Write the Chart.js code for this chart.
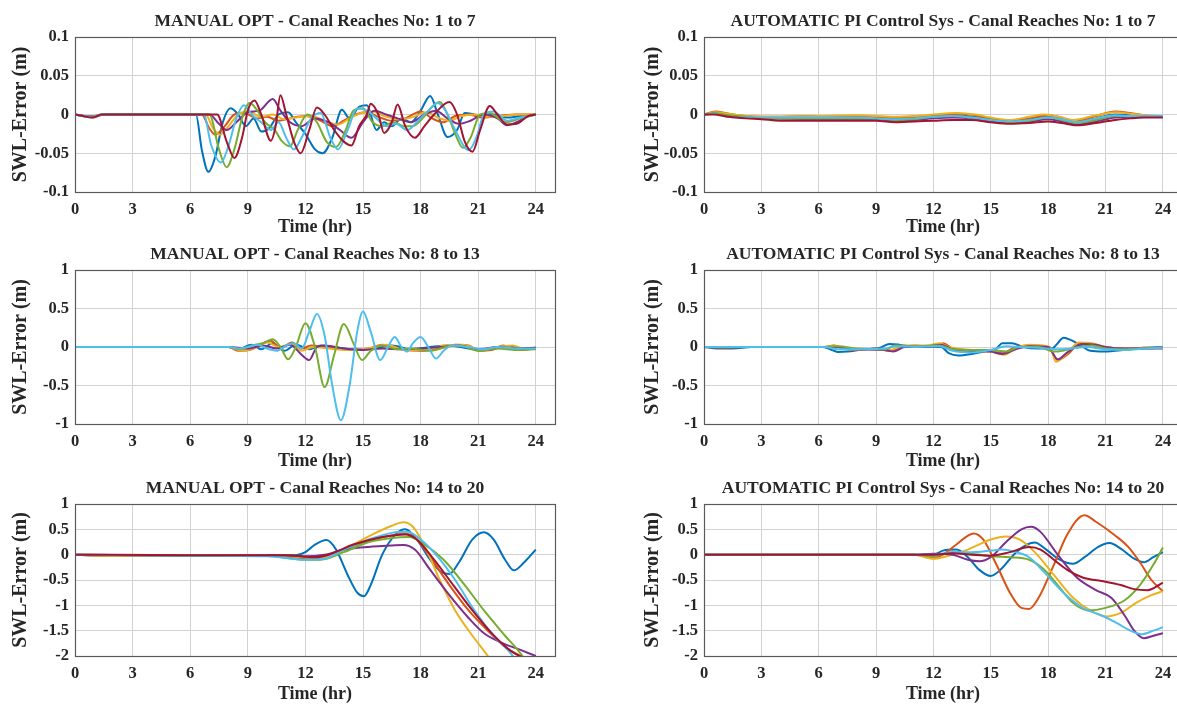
<!DOCTYPE html>
<html>
<head>
<meta charset="utf-8">
<script src="https://cdn.jsdelivr.net/npm/chart.js@4.4.1/dist/chart.umd.min.js"></script>
<style>
  html, body { margin: 0; padding: 0; background: #fff; overflow: hidden; width: 1177px; height: 704px; }
  canvas { position: absolute; }
</style>
</head>
<body>
<canvas id="p1" width="590" height="236" style="left:0;top:0"></canvas>
<canvas id="p2" width="600" height="236" style="left:590px;top:0"></canvas>
<canvas id="p3" width="590" height="234" style="left:0;top:236px"></canvas>
<canvas id="p4" width="600" height="234" style="left:590px;top:236px"></canvas>
<canvas id="p5" width="590" height="234" style="left:0;top:470px"></canvas>
<canvas id="p6" width="600" height="234" style="left:590px;top:470px"></canvas>
<script>
// MATLAB default line colours, reach order within each panel
const colors = ['#0072BD', '#D95319', '#EDB120', '#7E2F8E', '#77AC30', '#4DBEEE', '#A2142F'];

const xTicks = [0, 3, 6, 9, 12, 15, 18, 21, 24];
const yTicksSmall = [-0.1, -0.05, 0, 0.05, 0.1];
const yLabelsSmall = ['-0.1', '-0.05', '0', '0.05', '0.1'];
const yTicksMid = [-1, -0.5, 0, 0.5, 1];
const yLabelsMid = ['-1', '-0.5', '0', '0.5', '1'];
const yTicksBig = [-2, -1.5, -1, -0.5, 0, 0.5, 1];
const yLabelsBig = ['-2', '-1.5', '-1', '-0.5', '0', '0.5', '1'];

const titles = [
  'MANUAL OPT - Canal Reaches No: 1 to 7',
  'AUTOMATIC PI Control Sys - Canal Reaches No: 1 to 7',
  'MANUAL OPT - Canal Reaches No: 8 to 13',
  'AUTOMATIC PI Control Sys - Canal Reaches No: 8 to 13',
  'MANUAL OPT - Canal Reaches No: 14 to 20',
  'AUTOMATIC PI Control Sys - Canal Reaches No: 14 to 20'
];

// each series: [time (hr), SWL error (m)]
const manual1to7 = [
  [[0,0],[0.4,-0.002],[0.9,-0.003],[1.4,0],[6.3,0],[6.6,-0.045],[6.95,-0.074],[7.3,-0.055],[7.7,-0.01],[8.1,0.008],[8.5,0],[8.9,-0.015],[9.3,-0.005],[9.7,-0.022],[10.1,-0.018],[10.6,0],[11.1,0.003],[11.5,-0.01],[12,-0.025],[12.5,-0.045],[12.9,-0.05],[13.4,-0.03],[13.9,0.006],[14.3,-0.005],[14.8,0.01],[15.2,0.012],[15.7,-0.02],[16.1,-0.01],[16.5,-0.015],[17,-0.005],[17.5,-0.01],[18,0.005],[18.5,0.024],[18.9,0],[19.4,-0.029],[19.9,-0.02],[20.3,0.002],[20.8,0],[21.3,-0.003],[21.8,0],[22.5,-0.004],[23.2,-0.002],[24,0]],
  [[0,0],[0.5,-0.002],[1,-0.002],[1.5,0],[6.6,0],[7,-0.018],[7.3,-0.026],[7.8,-0.015],[8.3,0],[8.8,0.002],[9.5,-0.005],[10,-0.003],[10.6,-0.008],[11.2,-0.005],[12,-0.002],[12.8,-0.008],[13.4,-0.015],[14,-0.008],[14.6,0],[15.2,0.003],[15.8,-0.003],[16.5,-0.008],[17.2,-0.005],[18,0.004],[18.6,-0.005],[19.2,-0.01],[19.8,-0.002],[20.5,0],[21.2,-0.004],[22,-0.002],[23,0],[24,0]],
  [[0,0],[0.5,-0.002],[1,-0.003],[1.5,0],[6.8,0],[7.2,-0.018],[7.55,-0.026],[8,-0.015],[8.5,0],[9,0.004],[9.7,-0.003],[10.3,0],[10.9,-0.006],[11.5,-0.004],[12.3,-0.002],[13,-0.008],[13.7,-0.013],[14.3,-0.005],[14.9,0.002],[15.5,0.004],[16.1,-0.002],[16.8,-0.006],[17.5,-0.004],[18.3,0.003],[18.9,-0.004],[19.5,-0.008],[20.1,-0.002],[20.8,0],[21.5,-0.003],[22.3,-0.002],[23,0],[24,0]],
  [[0,0],[0.5,-0.002],[1,-0.003],[1.5,0],[7,0],[7.5,-0.012],[7.9,-0.02],[8.4,-0.01],[9,0.003],[9.6,0.005],[10.3,0.02],[10.7,0.005],[11.2,-0.01],[11.8,-0.015],[12.5,-0.005],[13.2,-0.01],[13.8,-0.02],[14.4,-0.03],[15,-0.01],[15.6,0.005],[16.2,0],[16.8,-0.005],[17.5,-0.01],[18.2,0],[18.8,0.005],[19.4,-0.005],[20,-0.012],[20.6,-0.008],[21.3,0],[22,-0.005],[22.5,-0.014],[23,-0.01],[23.6,-0.002],[24,0]],
  [[0,0],[0.4,-0.002],[0.9,-0.004],[1.4,0],[7,0],[7.5,-0.045],[7.9,-0.068],[8.3,-0.045],[8.7,-0.005],[9.1,0.015],[9.5,0.005],[9.9,-0.01],[10.4,-0.02],[10.8,-0.035],[11.2,-0.041],[11.6,-0.02],[12.1,0],[12.6,-0.01],[13.1,-0.035],[13.6,-0.042],[14.1,-0.02],[14.5,0.005],[15,0.008],[15.5,-0.01],[16,-0.015],[16.6,-0.01],[17.1,-0.015],[17.6,-0.015],[18.1,-0.005],[18.6,0.01],[19,0.016],[19.4,0],[19.8,-0.025],[20.2,-0.043],[20.6,-0.03],[21.1,0],[21.6,0.002],[22.4,-0.01],[23.2,-0.005],[24,0]],
  [[0,0],[0.4,-0.002],[0.9,-0.003],[1.4,0],[6.7,0],[7.1,-0.04],[7.6,-0.062],[8,-0.04],[8.4,-0.005],[8.8,0.012],[9.2,0],[9.7,-0.01],[10.2,-0.02],[10.6,-0.01],[11,-0.03],[11.4,-0.045],[11.8,-0.03],[12.3,-0.005],[12.8,0.002],[13.3,-0.03],[13.7,-0.045],[14.2,-0.02],[14.7,0.008],[15.2,0.005],[15.7,-0.005],[16.2,-0.015],[16.7,-0.012],[17.3,-0.02],[17.8,-0.01],[18.4,0.005],[18.9,0.015],[19.3,0.005],[19.8,-0.02],[20.5,-0.046],[20.9,-0.03],[21.3,0],[21.8,0.004],[22.5,-0.008],[23.2,-0.004],[24,0]],
  [[0,0],[0.4,-0.002],[0.9,-0.004],[1.4,0],[7.4,0],[7.9,-0.035],[8.3,-0.056],[8.7,-0.03],[9,0.005],[9.35,0.018],[9.7,0],[10.2,-0.034],[10.45,-0.015],[10.7,0.025],[11,0],[11.4,-0.035],[11.75,-0.05],[12.2,-0.02],[12.6,0.009],[13,0],[13.5,-0.02],[14,-0.035],[14.4,-0.04],[14.8,-0.015],[15.2,0],[15.4,0.014],[15.8,0],[16.1,-0.024],[16.5,-0.01],[16.8,0.013],[17.2,-0.015],[17.7,-0.03],[18.2,-0.015],[18.7,0],[19.5,0.016],[19.9,0],[20.3,-0.035],[20.7,-0.048],[21.1,-0.02],[21.6,0.011],[22,0],[22.5,-0.013],[23,-0.012],[23.6,-0.002],[24,0]]
];

const auto1to7 = [
  [[0,0],[0.5,0.002],[1.2,-0.001],[2,-0.003],[3,-0.004],[6,-0.004],[8,-0.003],[9,-0.004],[10,-0.006],[11,-0.004],[12,-0.002],[13,-0.001],[14,-0.003],[15,-0.006],[16,-0.009],[17,-0.006],[18,-0.003],[18.7,-0.006],[19.5,-0.01],[20.5,-0.005],[21.5,0],[22.3,-0.001],[23,-0.002],[24,-0.002]],
  [[0,0],[0.6,0.004],[1.3,0.001],[2.2,-0.002],[3,-0.003],[6,-0.002],[8,-0.002],[9,-0.003],[10,-0.004],[11,-0.003],[12,-0.001],[13.3,0.001],[14.2,-0.001],[15,-0.005],[16,-0.009],[17,-0.005],[18,-0.001],[18.7,-0.004],[19.4,-0.009],[20.5,-0.002],[21.5,0.004],[22.3,0.002],[23,-0.001],[24,-0.002]],
  [[0,0],[0.6,0.003],[1.3,0.001],[2.2,-0.002],[3,-0.003],[6,-0.002],[8,-0.001],[9,-0.002],[10,-0.003],[11,-0.002],[12,0],[13.2,0.002],[14.2,0],[15,-0.004],[16,-0.007],[17,-0.003],[17.8,0],[18.6,-0.003],[19.3,-0.007],[20.5,-0.001],[21.5,0.003],[22.3,0.001],[23,-0.001],[24,-0.002]],
  [[0,0],[0.5,0.001],[1.3,-0.002],[2.2,-0.004],[3,-0.005],[6,-0.006],[8,-0.006],[9,-0.006],[10,-0.008],[11,-0.007],[12,-0.005],[13,-0.004],[14,-0.005],[15,-0.008],[16,-0.011],[17,-0.009],[18,-0.006],[18.7,-0.009],[19.5,-0.013],[20.5,-0.009],[21.5,-0.004],[22.3,-0.003],[23,-0.003],[24,-0.003]],
  [[0,0],[0.5,0.002],[1.3,-0.001],[2.2,-0.003],[3,-0.005],[6,-0.005],[8,-0.005],[9,-0.005],[10,-0.007],[11,-0.006],[12,-0.003],[13,-0.002],[14,-0.004],[15,-0.007],[16,-0.01],[17,-0.008],[18,-0.004],[18.7,-0.007],[19.5,-0.011],[20.5,-0.007],[21.5,-0.002],[22.3,-0.002],[23,-0.002],[24,-0.003]],
  [[0,0],[0.5,0.001],[1.2,-0.003],[2,-0.004],[3,-0.004],[6,-0.004],[8,-0.004],[9,-0.005],[10,-0.006],[11,-0.005],[12,-0.003],[13,-0.002],[14,-0.004],[15,-0.007],[16,-0.009],[17,-0.007],[18,-0.004],[18.7,-0.006],[19.5,-0.01],[20.5,-0.005],[21.5,-0.001],[22.3,-0.002],[23,-0.002],[24,-0.002]],
  [[0,0],[0.5,0],[1.3,-0.003],[2.2,-0.005],[3,-0.006],[4,-0.008],[6,-0.008],[8,-0.008],[9,-0.008],[10,-0.01],[11,-0.009],[12,-0.008],[13,-0.007],[14,-0.007],[15,-0.01],[16,-0.012],[17,-0.011],[18,-0.009],[18.7,-0.011],[19.5,-0.014],[20.5,-0.011],[21.5,-0.007],[22.3,-0.005],[23,-0.004],[24,-0.004]]
];

const manual8to13 = [
  [[0,0],[8,0],[8.5,-0.03],[9.2,0.03],[9.7,-0.03],[10.3,0.05],[10.9,-0.05],[11.5,0.03],[12.2,-0.03],[12.8,0.02],[13.5,0],[14.5,-0.03],[15.5,-0.02],[16.5,0.02],[17.5,-0.03],[18.5,0],[19.5,0.02],[20.5,-0.02],[21.5,-0.04],[22.5,0.01],[23.5,-0.02],[24,-0.01]],
  [[0,0],[8,0],[8.5,-0.05],[9.2,-0.03],[9.8,0.05],[10.2,0.08],[10.7,-0.02],[11.3,0.06],[11.8,-0.02],[12.3,0.02],[13,0],[14,-0.03],[15,-0.04],[16,0.03],[17,-0.03],[18,-0.05],[19,-0.02],[19.8,0.03],[20.5,0.02],[21,-0.05],[21.7,-0.04],[22.3,0.02],[23,-0.04],[24,-0.02]],
  [[0,0],[8,0],[8.7,-0.05],[9.3,-0.02],[10,0.06],[10.6,0],[11.3,0.04],[11.8,-0.05],[12.4,0],[13.2,-0.02],[14.2,-0.04],[15.2,-0.02],[16.2,0.03],[17.2,-0.04],[18.2,-0.04],[19.2,0.02],[20.2,0.03],[21.2,-0.04],[22,0],[22.8,0.02],[23.5,-0.03],[24,-0.02]],
  [[0,0],[8,0],[9,-0.02],[9.8,0.02],[10.5,-0.02],[11.2,0.03],[11.8,-0.1],[12.2,-0.17],[12.6,0],[13,0.02],[14,-0.02],[15,-0.04],[16,-0.02],[17,-0.03],[18,-0.02],[19,0],[20,0.02],[21,-0.03],[22,0],[23,-0.02],[24,-0.01]],
  [[0,0],[8,0],[8.6,-0.03],[9.2,0.02],[9.8,0.05],[10.3,0.1],[10.7,0],[11.1,-0.16],[11.5,0],[12,0.31],[12.5,0],[13,-0.52],[13.5,-0.1],[14,0.3],[14.5,0.05],[14.95,-0.17],[15.4,-0.05],[16,0.02],[16.8,-0.03],[17.5,-0.02],[18.5,-0.05],[19.3,0],[20,0.02],[21,-0.05],[22,-0.02],[23,-0.04],[24,-0.03]],
  [[0,0],[8,0],[8.5,-0.02],[9,0],[9.5,0.03],[10,-0.02],[10.5,-0.05],[11,0.02],[11.4,0.05],[11.8,-0.02],[12.2,0.2],[12.6,0.43],[13,0.15],[13.4,-0.5],[13.85,-0.95],[14.3,-0.5],[14.7,0.2],[15,0.46],[15.4,0.2],[15.9,-0.17],[16.3,0],[16.65,0.13],[17,0],[17.3,-0.06],[17.6,0.05],[18,0.13],[18.4,0],[18.8,-0.15],[19.2,-0.05],[19.6,0.02],[20.5,0],[21.2,-0.03],[22,0],[23,-0.02],[24,-0.02]]
];

const auto8to13 = [
  [[0,0],[0.7,-0.02],[1.5,-0.02],[2.5,0],[6.2,0],[6.6,-0.03],[7,-0.065],[7.5,-0.06],[8.3,-0.03],[9.2,-0.01],[9.7,0.04],[10.2,0.03],[11,0],[12.4,0],[12.8,-0.08],[13.3,-0.11],[14,-0.09],[14.8,-0.05],[15.3,-0.02],[15.6,0.05],[16.1,0.05],[16.7,0],[17.5,-0.02],[18.2,-0.02],[18.5,0.05],[18.8,0.12],[19.2,0.09],[19.7,0.02],[20.2,-0.05],[20.9,-0.06],[21.5,-0.05],[22.2,-0.03],[23,-0.01],[24,0]],
  [[0,0],[1,-0.01],[2,0],[6.3,0],[6.8,0.02],[7.3,-0.02],[8,-0.04],[9,-0.02],[9.7,-0.05],[10.3,0],[11,0.02],[12.2,0.01],[12.5,0.05],[13,-0.02],[14,-0.05],[15,-0.06],[15.6,-0.08],[16.3,0],[17,0.02],[18,0],[18.5,-0.17],[19,-0.1],[19.7,0.05],[20.3,0.04],[21,0],[22,-0.02],[23,-0.01],[24,-0.01]],
  [[0,0],[6.3,0],[6.8,0.02],[7.5,-0.03],[8.5,-0.03],[9.7,-0.04],[10.5,0.02],[11.5,0.01],[12.3,0.05],[12.8,0],[14,-0.04],[15,-0.06],[15.7,-0.1],[16.3,-0.02],[17,0.03],[18.1,0],[18.4,-0.19],[19,-0.08],[19.6,0.06],[20.3,0.05],[21,0],[22,-0.02],[23,-0.02],[24,-0.01]],
  [[0,0],[6.3,0],[7,0],[8,-0.03],[9.5,-0.04],[9.9,-0.06],[10.5,0],[11.5,0],[12.4,0.03],[13,-0.03],[14,-0.05],[15,-0.06],[15.6,-0.09],[16.3,-0.03],[17,0.01],[18,0],[18.5,-0.16],[19,-0.07],[19.8,0.04],[20.5,0.03],[21,0],[22,-0.02],[23,-0.02],[24,-0.02]],
  [[0,0],[6.3,0],[7,0.01],[8,-0.02],[9.5,-0.03],[10,0.02],[11,0.01],[12.3,0.02],[13,-0.03],[14,-0.04],[15,-0.04],[15.8,-0.06],[16.5,0],[17.5,0],[18.3,-0.06],[18.9,-0.04],[19.6,0],[20.3,0.02],[21,-0.02],[22,-0.03],[23,-0.02],[24,-0.01]],
  [[0,0],[6.3,0],[7,-0.03],[8,-0.03],[9.5,-0.02],[10,0.01],[11,0],[12.3,0.01],[13,-0.05],[14,-0.07],[15,-0.04],[15.8,0.01],[16.5,0],[17.5,-0.01],[18.5,-0.03],[19.2,-0.02],[20,0],[21,-0.03],[22,-0.04],[23,-0.02],[24,-0.01]]
];

const manual14to20 = [
  [[0,0],[1,-0.02],[3,-0.02],[6,-0.02],[9,-0.02],[11.5,-0.01],[12,0.05],[12.5,0.2],[13.1,0.29],[13.6,0.1],[14.2,-0.4],[14.7,-0.75],[15.05,-0.82],[15.4,-0.6],[16,0],[16.7,0.4],[17.2,0.5],[17.8,0.3],[18.5,-0.1],[19.1,-0.35],[19.5,-0.38],[20,-0.15],[20.7,0.3],[21.3,0.44],[21.8,0.3],[22.4,-0.1],[22.85,-0.31],[23.4,-0.15],[24,0.1]],
  [[0,0],[6,-0.02],[10,-0.02],[12,-0.07],[13,-0.05],[14,0.1],[15.5,0.3],[16.5,0.38],[17.2,0.42],[17.8,0.3],[18.5,-0.05],[19.5,-0.6],[20.5,-1.1],[21.5,-1.5],[22.5,-1.85],[23.2,-2],[23.5,-2.1]],
  [[0,0],[1,-0.02],[6,-0.02],[10,-0.02],[12,-0.05],[12.8,-0.06],[13.5,0],[14.5,0.2],[15.5,0.4],[16.5,0.57],[17.1,0.64],[17.6,0.55],[18.3,0.1],[19,-0.5],[19.8,-1.1],[20.7,-1.6],[21.5,-2],[22,-2.3]],
  [[0,0],[6,-0.02],[10.8,-0.01],[12,-0.03],[13,0],[14,0.1],[15.5,0.16],[16.5,0.18],[17.1,0.19],[17.7,0.1],[18.5,-0.3],[19.5,-0.8],[20.5,-1.25],[21.3,-1.55],[22.3,-1.75],[23.2,-1.88],[24,-2]],
  [[0,0],[6,-0.02],[10,-0.02],[12,-0.1],[12.8,-0.1],[14,0.05],[15.3,0.25],[16.5,0.33],[17.4,0.35],[18.2,0.2],[19.2,-0.1],[20.3,-0.6],[21.3,-1.1],[22.4,-1.6],[23.3,-2],[23.6,-2.2]],
  [[0,0],[6,-0.02],[10,-0.03],[12,-0.1],[13,-0.08],[14,0.1],[15.3,0.3],[16.5,0.43],[17.3,0.45],[18,0.3],[18.8,0],[19.8,-0.5],[20.8,-1.1],[21.8,-1.6],[22.8,-2],[23.1,-2.2]],
  [[0,0],[6,-0.01],[11,-0.01],[12.5,-0.05],[13.2,0],[14.5,0.2],[16,0.35],[17.2,0.4],[17.8,0.3],[18.7,-0.1],[19.7,-0.6],[20.7,-1.1],[21.7,-1.55],[22.7,-1.9],[23.4,-2.05]]
];

const auto14to20 = [
  [[0,0],[11,0],[12,0],[12.5,0.08],[13.2,0.1],[13.8,-0.05],[14.4,-0.3],[15,-0.42],[15.5,-0.3],[16.2,0],[16.8,0.18],[17.3,0.24],[17.9,0.1],[18.6,-0.1],[19.3,-0.18],[19.9,-0.05],[20.6,0.15],[21.2,0.23],[21.8,0.12],[22.5,-0.08],[23,-0.15],[23.5,-0.05],[24,0.05]],
  [[0,0],[11,0],[11.6,-0.03],[12,-0.07],[12.5,0],[13.2,0.2],[14.1,0.42],[14.6,0.3],[15.3,-0.2],[16,-0.75],[16.6,-1.05],[17,-1.07],[17.5,-0.85],[18.3,-0.2],[19,0.4],[19.9,0.78],[20.5,0.65],[21.5,0.38],[22.2,0.15],[22.8,-0.15],[23.4,-0.5],[24,-0.72]],
  [[0,0],[11,0],[12,-0.08],[12.8,-0.02],[13.8,0.1],[15,0.3],[15.8,0.36],[16.5,0.3],[17.3,0.05],[18.3,-0.4],[19.3,-0.85],[20.2,-1.1],[21,-1.22],[21.8,-1.15],[22.6,-0.95],[23.4,-0.8],[24,-0.72]],
  [[0,0],[11,0],[12,0.02],[13,0],[13.8,-0.1],[14.4,-0.13],[15,-0.05],[15.8,0.25],[16.6,0.5],[17.1,0.55],[17.6,0.45],[18.5,0],[19.5,-0.45],[20.5,-0.7],[21.3,-0.85],[22,-1.2],[22.5,-1.5],[23,-1.65],[23.5,-1.6],[24,-1.55]],
  [[0,0],[11,0],[12,-0.03],[13,0.05],[14,0.02],[15,-0.03],[16,-0.05],[17,-0.1],[17.8,-0.3],[18.5,-0.6],[19.3,-0.95],[20.1,-1.1],[21,-1.05],[22,-0.9],[22.8,-0.6],[23.5,-0.2],[24,0.14]],
  [[0,0],[11,0],[12,0],[13,0.05],[14,0.05],[15,0.08],[15.6,0.1],[16.3,0.05],[17,-0.05],[17.8,-0.35],[18.8,-0.75],[19.8,-1.05],[20.8,-1.2],[21.6,-1.35],[22.3,-1.5],[22.9,-1.57],[23.5,-1.5],[24,-1.43]],
  [[0,0],[11,0],[12,0],[13,0.03],[14,0],[15,-0.02],[16,0.05],[17,0.15],[17.6,0.1],[18.3,-0.1],[19,-0.3],[19.8,-0.45],[20.8,-0.52],[21.8,-0.6],[22.5,-0.68],[23.2,-0.7],[24,-0.55]]
];

const FONT = '"Liberation Serif", "Times New Roman", serif';
const INK = '#262626';

// draws the panel title over the axes centre and the full axes box
const panelFrame = {
  id: 'panelFrame',
  afterDraw(chart, args, opts) {
    const { ctx, chartArea: a } = chart;
    ctx.save();
    ctx.strokeStyle = '#5a5a5a';
    ctx.lineWidth = 1.2;
    ctx.strokeRect(a.left + 0.5, a.top + 0.5, a.width, a.height);
    ctx.font = 'bold 17.5px ' + FONT;
    ctx.fillStyle = INK;
    ctx.textAlign = 'center';
    ctx.textBaseline = 'middle';
    ctx.fillText(opts.text, (a.left + a.right) / 2, a.top - 16);
    ctx.restore();
  }
};

function makePanel(id, title, series, yMin, yMax, yTicks, yLabels, box) {
  const canvas = document.getElementById(id);
  const W = canvas.width, H = canvas.height;
  const xH = H - box.bottom;
  new Chart(canvas, {
    type: 'line',
    data: {
      datasets: series.map((s, i) => ({
        data: s.map(p => ({ x: p[0], y: p[1] })),
        borderColor: colors[i],
        borderWidth: 2,
        pointRadius: 0,
        fill: false,
        cubicInterpolationMode: 'monotone',
        order: -i
      }))
    },
    options: {
      responsive: false,
      animation: false,
      events: [],
      layout: { padding: { left: 0, top: box.top, right: W - box.right, bottom: 0 } },
      plugins: { legend: { display: false }, tooltip: { enabled: false }, panelFrame: { text: title } },
      scales: {
        x: {
          type: 'linear', min: 0, max: 25,
          afterBuildTicks: a => { a.ticks = xTicks.map(v => ({ value: v })); },
          afterFit: a => { a.height = xH; },
          grid: { color: '#d2d2d2', drawTicks: false },
          border: { display: false },
          ticks: { padding: 8, color: INK, font: { family: FONT, size: 16.5, weight: 'bold' }, maxRotation: 0, autoSkip: false, callback: v => String(v) },
          title: { display: true, text: 'Time (hr)', color: INK, font: { family: FONT, size: 18, weight: 'bold', lineHeight: 1 }, padding: { top: 0, bottom: Math.max(0, xH - 38 - 9) } }
        },
        y: {
          type: 'linear', min: yMin, max: yMax,
          afterBuildTicks: a => { a.ticks = yTicks.map(v => ({ value: v })); },
          afterFit: a => { a.width = box.left; },
          grid: { color: '#d2d2d2', drawTicks: false },
          border: { display: false },
          ticks: { padding: 6, color: INK, font: { family: FONT, size: 16.5, weight: 'bold' }, autoSkip: false, callback: (v, i) => yLabels[i] },
          title: { display: true, text: 'SWL-Error (m)', color: INK, font: { family: FONT, size: 20, weight: 'bold', lineHeight: 1 }, padding: { top: box.yTitle - 10, bottom: 0 } }
        }
      }
    },
    plugins: [panelFrame]
  });
}

const leftTop = { left: 75, right: 555, top: 37, bottom: 192, yTitle: 21 };
const rightTop = { left: 114, right: 592, top: 37, bottom: 192, yTitle: 63 };
const leftMid = { left: 75, right: 555, top: 34, bottom: 188, yTitle: 21 };
const rightMid = { left: 114, right: 592, top: 34, bottom: 188, yTitle: 63 };
const leftBot = { left: 75, right: 555, top: 34, bottom: 186, yTitle: 21 };
const rightBot = { left: 114, right: 592, top: 34, bottom: 186, yTitle: 63 };

makePanel('p1', titles[0], manual1to7, -0.1, 0.1, yTicksSmall, yLabelsSmall, leftTop);
makePanel('p2', titles[1], auto1to7, -0.1, 0.1, yTicksSmall, yLabelsSmall, rightTop);
makePanel('p3', titles[2], manual8to13, -1, 1, yTicksMid, yLabelsMid, leftMid);
makePanel('p4', titles[3], auto8to13, -1, 1, yTicksMid, yLabelsMid, rightMid);
makePanel('p5', titles[4], manual14to20, -2, 1, yTicksBig, yLabelsBig, leftBot);
makePanel('p6', titles[5], auto14to20, -2, 1, yTicksBig, yLabelsBig, rightBot);
</script>
</body>
</html>
